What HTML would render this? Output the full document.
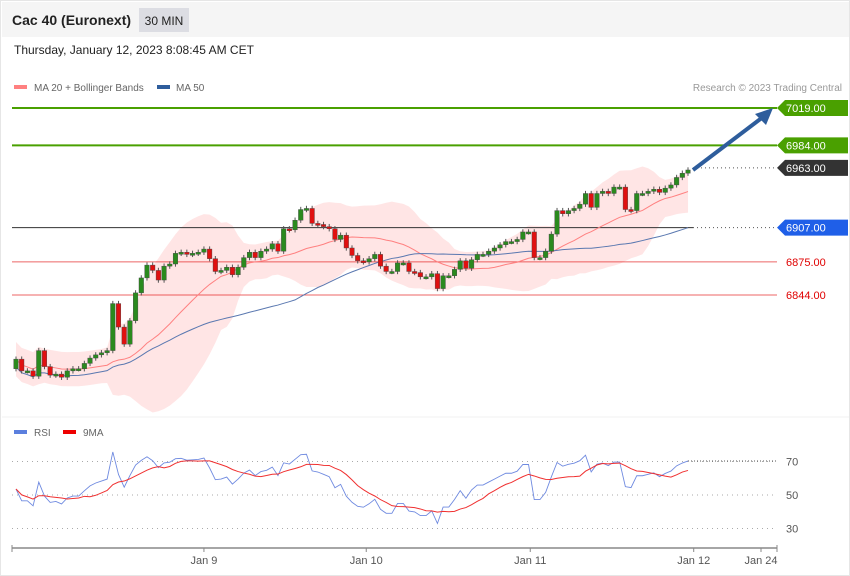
<!DOCTYPE html>
<html><head><meta charset="utf-8"><style>
body{margin:0;background:#fff;font-family:"Liberation Sans",sans-serif}
#wrap{position:relative;width:850px;height:576px;overflow:hidden;border:1px solid #e6e6e6;box-sizing:border-box}
</style></head><body>
<div id="wrap">
<svg id="svg" width="850" height="576" xmlns="http://www.w3.org/2000/svg" style="position:absolute;left:0;top:0">
<rect x="1" y="1" width="848" height="35" fill="#f5f5f5"/>
<text x="11" y="24" font-size="14" font-weight="bold" fill="#222">Cac 40 (Euronext)</text>
<rect x="138" y="7" width="50" height="24" fill="#dcdde3"/>
<text x="163" y="24" font-size="12" fill="#222" text-anchor="middle">30 MIN</text>
<text x="13" y="53" font-size="12" fill="#222">Thursday, January 12, 2023 8:08:45 AM CET</text>
<rect x="13" y="84" width="13" height="4" fill="#ff8080"/>
<text x="33" y="90" font-size="10" fill="#666">MA 20 + Bollinger Bands</text>
<rect x="156" y="84" width="13" height="4" fill="#2e5d9c"/>
<text x="175" y="90" font-size="10" fill="#666">MA 50</text>
<text x="841" y="90" font-size="10" fill="#999" text-anchor="end">Research © 2023 Trading Central</text>
<line x1="1" y1="416" x2="849" y2="416" stroke="#f0f0f0"/>
<rect x="13" y="429" width="13" height="4" fill="#5b7fde"/>
<text x="33" y="435" font-size="10" fill="#666">RSI</text>
<rect x="62" y="429" width="13" height="4" fill="#e00"/>
<text x="82" y="435" font-size="10" fill="#666">9MA</text>
<g id="g"></g>
</svg>
</div>
<script>
const closes=[6784,6773,6773,6768,6792,6777,6769,6770,6767,6773,6775,6775,6780,6785,6788,6790,6792,6836,6814,6798,6820,6846,6860,6872,6867,6858,6871,6873,6883,6884,6882,6883,6884,6887,6878,6866,6867,6870,6863,6870,6879,6884,6879,6885,6887,6892,6885,6906,6905,6914,6924,6925,6911,6910,6908,6906,6896,6900,6888,6881,6876,6875,6878,6882,6871,6866,6866,6874,6874,6866,6865,6861,6861,6864,6850,6862,6862,6868,6876,6869,6877,6882,6882,6885,6888,6891,6894,6894,6896,6903,6903,6879,6879,6885,6901,6923,6920,6923,6925,6929,6939,6926,6939,6941,6939,6945,6945,6924,6923,6939,6939,6941,6943,6940,6944,6947,6954,6958,6961];
const firstOpen=6775;
const levels=[7019,6984,6963,6907,6875,6844];
const levelColors=["#4aa000","#4aa000","#333333","#1f5fe8","#e00000","#e00000"];
const rsiTicks=[70,50,30];
const dateLabels=["Jan 9","Jan 10","Jan 11","Jan 12","Jan 24"];
const dateIdx=[33,61.5,90.3,119,131];

const NS="http://www.w3.org/2000/svg";
const g=document.getElementById('g');
function mk(t,a,p){const e=document.createElementNS(NS,t);for(const k in a)e.setAttribute(k,a[k]);(p||g).appendChild(e);return e;}
const yP=v=>107+(7019-v)*1.0686;
const xI=i=>15+i*5.695;
const yR=v=>494-(v-50)*1.675;
const n=closes.length;

const ma20=[],up=[],lo=[],ma50=[];
for(let i=0;i<n;i++){
 const s=closes.slice(Math.max(0,i-19),i+1);const m=s.reduce((a,b)=>a+b,0)/s.length;
 const sd=Math.sqrt(s.reduce((a,b)=>a+(b-m)*(b-m),0)/s.length);
 ma20.push(m);up.push(m+2*Math.max(sd,8));lo.push(m-2*Math.max(sd,8));
 const s5=closes.slice(Math.max(0,i-49),i+1);ma50.push(s5.reduce((a,b)=>a+b,0)/s5.length-(i<50?(50-i)*0.15:0));
}
let band="M"+up.map((v,i)=>xI(i)+","+yP(v)).join(" L")+" L"+lo.map((v,i)=>xI(i)+","+yP(v)).reverse().join(" L")+"Z";
let e=mk('path',{d:band,fill:"#ffe0e0",opacity:"0.85"});



levels.forEach((v,k)=>{
 const y=yP(v);
 if(k!=2){
  const x2=(k==3)?692:776;
  let l=mk('line',{x1:11,y1:y,x2:x2,y2:y,stroke:k==3?"#333":levelColors[k],'stroke-width':(k<2?2:1),opacity:(k>=4?0.6:1)});
  
  
 }
 if(k==2||k==3){let d=mk('line',{x1:692,y1:y,x2:776,y2:y,stroke:"#555","stroke-dasharray":"1,3"});
  
  }
 if(k<4){let tg=mk('path',{d:`M776,${y} L784,${y-8} L847,${y-8} L847,${y+8} L784,${y+8}Z`,fill:levelColors[k]});
  
  }
 let t=mk('text',{x:785,y:y+4,'font-size':11,fill:k<4?"#fff":"#e00000"});t.textContent=v.toFixed(2);
 
 
});

let p=mk('polyline',{points:ma20.map((v,i)=>xI(i)+","+yP(v)).join(" "),fill:"none",stroke:"#ff8080","stroke-width":1});


p=mk('polyline',{points:ma50.map((v,i)=>xI(i)+","+yP(v)).join(" "),fill:"none",stroke:"#5a78b0","stroke-width":1});



for(let i=0;i<n;i++){
 const o=i?closes[i-1]:firstOpen,c=closes[i];
 const x=xI(i),hi=Math.max(o,c)+2.5,lw=Math.min(o,c)-2.5;
 let w=mk('line',{x1:x,y1:yP(hi),x2:x,y2:yP(lw),stroke:"#555","stroke-width":1});
 
 
 const top=yP(Math.max(o,c)),h=Math.max(2,Math.abs(yP(o)-yP(c)));
 let r=mk('rect',{x:x-2.3,y:top,width:4.6,height:h,fill:c>=o?"#2a8a1e":"#e01010",stroke:"#444","stroke-width":0.4});
 
 
}

const ax=xI(n-1)+5,ay=yP(closes[n-1]);
let ar=mk('line',{x1:ax,y1:ay,x2:762,y2:116,stroke:"#2e5d9c","stroke-width":4});


ar=mk('path',{d:"M772,107 L754,113 L765,124Z",fill:"#2e5d9c"});



// RSI (Wilder, seeded)
const rsi=[];let ag=3,al=2.6;
for(let i=0;i<n;i++){
 if(i>0){const d=closes[i]-closes[i-1];ag=(ag*13+Math.max(d,0))/14;al=(al*13+Math.max(-d,0))/14;}
 rsi.push(100-100/(1+ag/al));
}
const rma=rsi.map((v,i)=>{const s=rsi.slice(Math.max(0,i-8),i+1);return s.reduce((a,b)=>a+b,0)/s.length;});
rsiTicks.forEach(v=>{
 let l=mk('line',{x1:11,y1:yR(v),x2:776,y2:yR(v),stroke:"#aaa","stroke-dasharray":"1,4"});
 
 
 let t=mk('text',{x:785,y:yR(v)+4,'font-size':11,fill:"#555"});t.textContent=v;
 
 
});
p=mk('polyline',{points:rsi.map((v,i)=>xI(i)+","+yR(v)).join(" "),fill:"none",stroke:"#6f8ae0","stroke-width":0.9});


p=mk('polyline',{points:rma.map((v,i)=>xI(i)+","+yR(v)).join(" "),fill:"none",stroke:"#f03030","stroke-width":1});


let dl=mk('line',{x1:xI(n-1),y1:yR(rsi[n-1]),x2:776,y2:yR(rsi[n-1]),stroke:"#555","stroke-dasharray":"1,2"});



let xa=mk('line',{x1:11,y1:547,x2:776,y2:547,stroke:"#888","stroke-width":1.5});


[11,776].forEach(x=>{let tk=mk('line',{x1:x,y1:544,x2:x,y2:551,stroke:"#888"});
 
 });
dateLabels.forEach((s,k)=>{
 const x=Math.min(xI(dateIdx[k]),760);
 let tk=mk('line',{x1:x,y1:547,x2:x,y2:551,stroke:"#888"});
 
 
 let t=mk('text',{x:x,y:563,'font-size':11,fill:"#555",'text-anchor':"middle"});t.textContent=s;
 
 
});
</script>
</body></html>
